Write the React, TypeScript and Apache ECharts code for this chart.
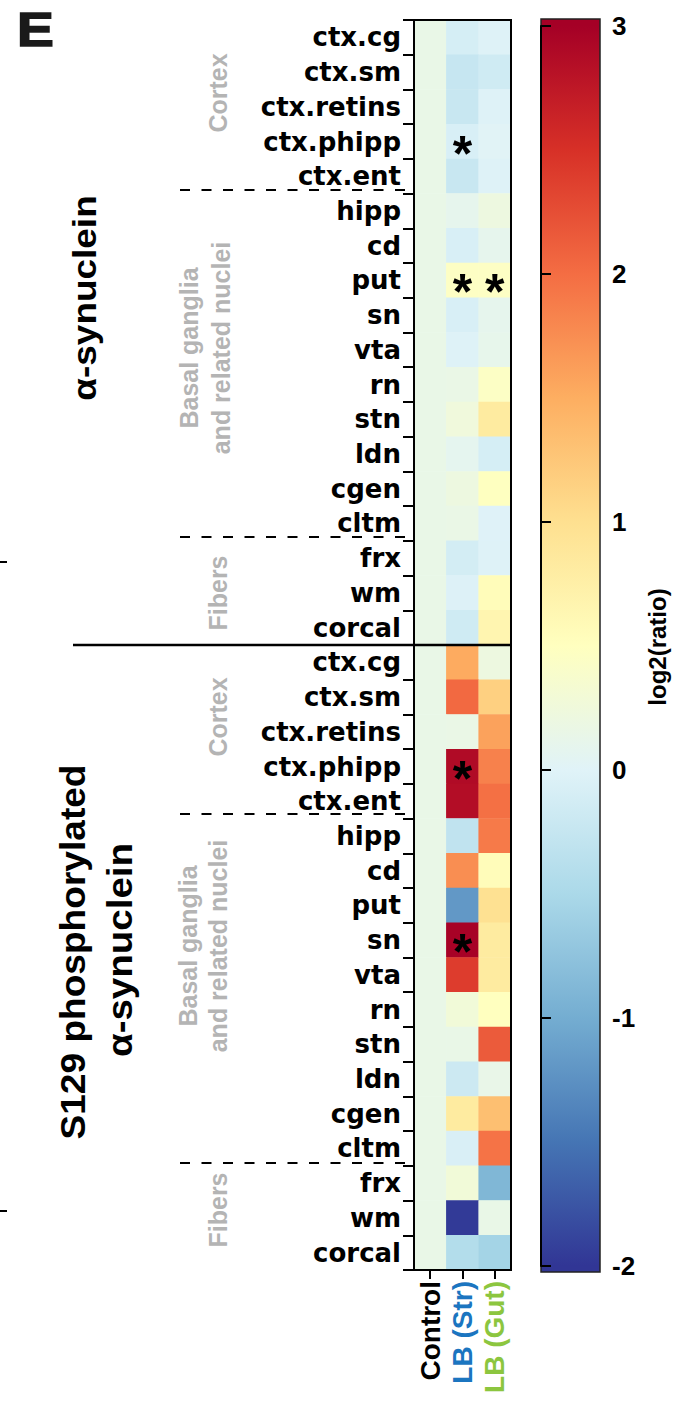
import React, { useEffect, useRef } from 'react';
import * as echarts from 'echarts';

const regions = ['ctx.cg', 'ctx.sm', 'ctx.retins', 'ctx.phipp', 'ctx.ent', 'hipp', 'cd', 'put', 'sn', 'vta', 'rn', 'stn', 'ldn', 'cgen', 'cltm', 'frx', 'wm', 'corcal'];
const groups = ['Control', 'LB (Str)', 'LB (Gut)'];
const groupColors = ['#000000', '#1b75c0', '#8cc63f'];

// α-synuclein, log2(ratio)
const aSynControl = [0.15, 0.15, 0.15, 0.15, 0.15, 0.15, 0.15, 0.15, 0.15, 0.15, 0.15, 0.15, 0.15, 0.15, 0.15, 0.15, 0.15, 0.15];
const aSynStr = [-0.1, -0.25, -0.23, -0.08, -0.23, 0.1, -0.08, 0.46, -0.08, -0.02, 0.16, 0.25, 0.08, 0.21, 0.16, -0.12, -0.03, -0.16];
const aSynGut = [-0.02, -0.16, -0.02, 0.02, -0.02, 0.21, 0.1, 0.46, 0.1, 0.11, 0.45, 0.83, -0.1, 0.49, -0.01, -0.02, 0.55, 0.66];
// S129 phosphorylated α-synuclein, log2(ratio)
const pSynControl = [0.15, 0.15, 0.15, 0.15, 0.15, 0.15, 0.15, 0.15, 0.15, 0.15, 0.15, 0.15, 0.15, 0.15, 0.15, 0.15, 0.15, 0.15];
const pSynStr = [1.52, 2.03, 0.16, 2.89, 2.86, -0.3, 1.75, -1.19, 2.98, 2.4, 0.28, 0.15, -0.19, 0.83, -0.07, 0.28, -1.97, -0.42];
const pSynGut = [0.21, 1.16, 1.59, 1.85, 1.98, 1.9, 0.55, 0.98, 0.83, 0.83, 0.5, 2.15, 0.14, 1.33, 1.95, -0.89, 0.15, -0.56];

const aSynStars = [['ctx.phipp', 'LB (Str)'], ['put', 'LB (Str)'], ['put', 'LB (Gut)']];
const pSynStars = [['ctx.phipp', 'LB (Str)'], ['sn', 'LB (Str)']];

const colorMin = -2;
const colorMax = 3;
const palette = ['#313695', '#4575b4', '#74add1', '#abd9e9', '#e0f3f8', '#ffffbf', '#fee090', '#fdae61', '#f46d43', '#d73027', '#a50026'];

function build(cols: number[][]) {
  const out: number[][] = [];
  regions.forEach((_, i) => {
    cols.forEach((c, j) => out.push([j, i, c[i]]));
  });
  return out;
}

const starKeys = (list: string[][]) => new Set(list.map(([r, g]) => `${regions.indexOf(r)},${groups.indexOf(g)}`));

const FONT = 'Liberation Sans';

function vtext(text: string, x: number, y: number, fontSize: number, fill: string, scaleX = 1, scaleY = 1) {
  return {
    type: 'text',
    x,
    y,
    rotation: Math.PI / 2,
    scaleX,
    scaleY,
    z: 50,
    style: {
      text,
      x: 0,
      y: 0,
      fontSize,
      fontWeight: 'bold',
      fontFamily: FONT,
      fill,
      align: 'center',
      verticalAlign: 'middle',
      textAlign: 'center',
      textVerticalAlign: 'middle',
    },
  };
}

function hline(x1: number, x2: number, y: number, dashed: boolean, width = 2) {
  return {
    type: 'line',
    z: 60,
    shape: { x1, y1: y, x2, y2: y },
    style: { stroke: '#000', lineWidth: width, lineDash: dashed ? [10, 11.5] : null },
  };
}

export default function App() {
  const ref = useRef<HTMLDivElement>(null);
  useEffect(() => {
    const chart = echarts.init(ref.current!, null, { renderer: 'svg' });

    const stars = [starKeys(aSynStars), starKeys(pSynStars)];
    const labelFmt = (p: any) => (stars[p.seriesIndex].has(`${p.data[1]},${p.data[0]}`) ? '*' : '');

    // colorbar geometry (axis from 3 at y=26 to -2 at y=1266)
    const barTop = 19;
    const barH = 1253;
    const axTop = 26;
    const axH = 1240;
    const stops = palette
      .map((c, k) => {
        const v = colorMin + (k * (colorMax - colorMin)) / (palette.length - 1);
        const y = axTop + ((colorMax - v) / (colorMax - colorMin)) * axH;
        return { offset: Math.min(1, Math.max(0, (y - barTop) / barH)), color: c };
      })
      .sort((a, b) => a.offset - b.offset);
    stops.unshift({ offset: 0, color: palette[palette.length - 1] });
    stops.push({ offset: 1, color: palette[0] });

    const yAxisCommon = {
      type: 'category',
      data: regions,
      inverse: true,
      z: 10,
      axisLine: { show: true, lineStyle: { color: '#000', width: 2 } },
      axisTick: { show: true, length: 11, lineStyle: { color: '#000', width: 2 } },
      axisLabel: { interval: 0, fontFamily: 'DejaVu Sans', fontWeight: 'bold', fontSize: 26, color: '#000', margin: 13 },
      splitLine: { show: false },
    };

    const labelCommon = {
      show: true,
      formatter: labelFmt,
      fontSize: 50,
      fontWeight: 'bold',
      fontFamily: FONT,
      color: '#000',
      offset: [0, 12],
    };

    chart.setOption({
      animation: false,
      backgroundColor: '#fff',
      grid: [
        { left: 414, top: 20, width: 97, height: 625 },
        { left: 414, top: 645, width: 97, height: 625 },
        { left: 541, top: axTop, width: 59, height: axH },
      ],
      xAxis: [
        { gridIndex: 0, type: 'category', data: groups, show: false },
        {
          gridIndex: 1,
          type: 'category',
          data: groups.map((g, i) => ({ value: g, textStyle: { color: groupColors[i] } })),
          position: 'bottom',
          z: 10,
          axisLine: { show: true, lineStyle: { color: '#000', width: 2 } },
          axisTick: { show: true, alignWithLabel: true, length: 9, lineStyle: { color: '#000', width: 2 } },
          axisLabel: { interval: 0, hideOverlap: false, rotate: 90, margin: 11, fontFamily: FONT, fontWeight: 'bold', fontSize: 28 },
        },
        { gridIndex: 2, type: 'value', show: false, min: 0, max: 1 },
      ],
      yAxis: [
        { gridIndex: 0, ...yAxisCommon },
        { gridIndex: 1, ...yAxisCommon },
        {
          gridIndex: 2,
          type: 'value',
          min: colorMin,
          max: colorMax,
          interval: 1,
          position: 'right',
          z: 10,
          axisLine: { show: true, lineStyle: { color: '#000', width: 2 } },
          axisTick: { show: true, length: 10, lineStyle: { color: '#000', width: 2 } },
          axisLabel: { fontFamily: FONT, fontWeight: 'bold', fontSize: 26, color: '#000', margin: 12 },
          splitLine: { show: false },
        },
      ],
      visualMap: [
        {
          type: 'continuous',
          min: colorMin,
          max: colorMax,
          dimension: 2,
          seriesIndex: [0, 1],
          show: false,
          inRange: { color: palette },
        },
      ],
      series: [
        {
          type: 'heatmap',
          xAxisIndex: 0,
          yAxisIndex: 0,
          data: build([aSynControl, aSynStr, aSynGut]),
          itemStyle: { borderWidth: 0 },
          label: labelCommon,
          emphasis: { disabled: true },
        },
        {
          type: 'heatmap',
          xAxisIndex: 1,
          yAxisIndex: 1,
          data: build([pSynControl, pSynStr, pSynGut]),
          itemStyle: { borderWidth: 0 },
          label: labelCommon,
          emphasis: { disabled: true },
        },
      ],
      graphic: [
        {
          type: 'text',
          x: 17,
          y: 29,
          z: 50,
          scaleX: 1.15,
          style: { text: 'E', fontSize: 48, fontWeight: 900, fontFamily: FONT, fill: '#1a1a1a', stroke: '#1a1a1a', lineWidth: 1.5, align: 'left', verticalAlign: 'middle', textAlign: 'left', textVerticalAlign: 'middle' },
        },
        // heatmap frame
        { type: 'rect', z: 60, shape: { x: 414, y: 20, width: 97, height: 1250 }, style: { fill: 'none', stroke: '#000', lineWidth: 2 } },
        // colorbar
        {
          type: 'rect',
          z: 1,
          shape: { x: 541, y: barTop, width: 59, height: barH },
          style: { fill: new echarts.graphic.LinearGradient(0, 0, 0, 1, stops), stroke: '#222', lineWidth: 1.5 },
        },
        vtext('log2(ratio)', 657, 647, 24, '#000'),
        // protein labels
        vtext('α-synuclein', 84, 298, 33, '#000', 1.12),
        vtext('S129 phosphorylated', 73, 952, 35, '#000', 1.06),
        vtext('α-synuclein', 120, 950, 35, '#000', 1.1),
        // region group labels
        vtext('Cortex', 218, 93, 25, '#b4b4b4'),
        vtext('Basal ganglia', 189, 348, 25, '#b4b4b4'),
        vtext('and related nuclei', 221, 348, 25, '#b4b4b4'),
        vtext('Fibers', 218, 593, 25, '#b4b4b4'),
        vtext('Cortex', 218, 717, 25, '#b4b4b4'),
        vtext('Basal ganglia', 188, 946, 25, '#b4b4b4'),
        vtext('and related nuclei', 218, 946, 25, '#b4b4b4'),
        vtext('Fibers', 218, 1210, 25, '#b4b4b4'),
        // separators
        hline(73, 512, 645, false, 2.5),
        hline(180, 407, 190, true),
        hline(180, 407, 537, true),
        hline(180, 407, 814, true),
        hline(180, 407, 1163, true),
        hline(0, 7, 562, false, 2),
        hline(0, 7, 1211, false, 2),
      ],
    });
    return () => chart.dispose();
  }, []);
  return <div ref={ref} style={{ position: 'absolute', left: 0, top: 0, width: 679, height: 1414 }} />;
}
